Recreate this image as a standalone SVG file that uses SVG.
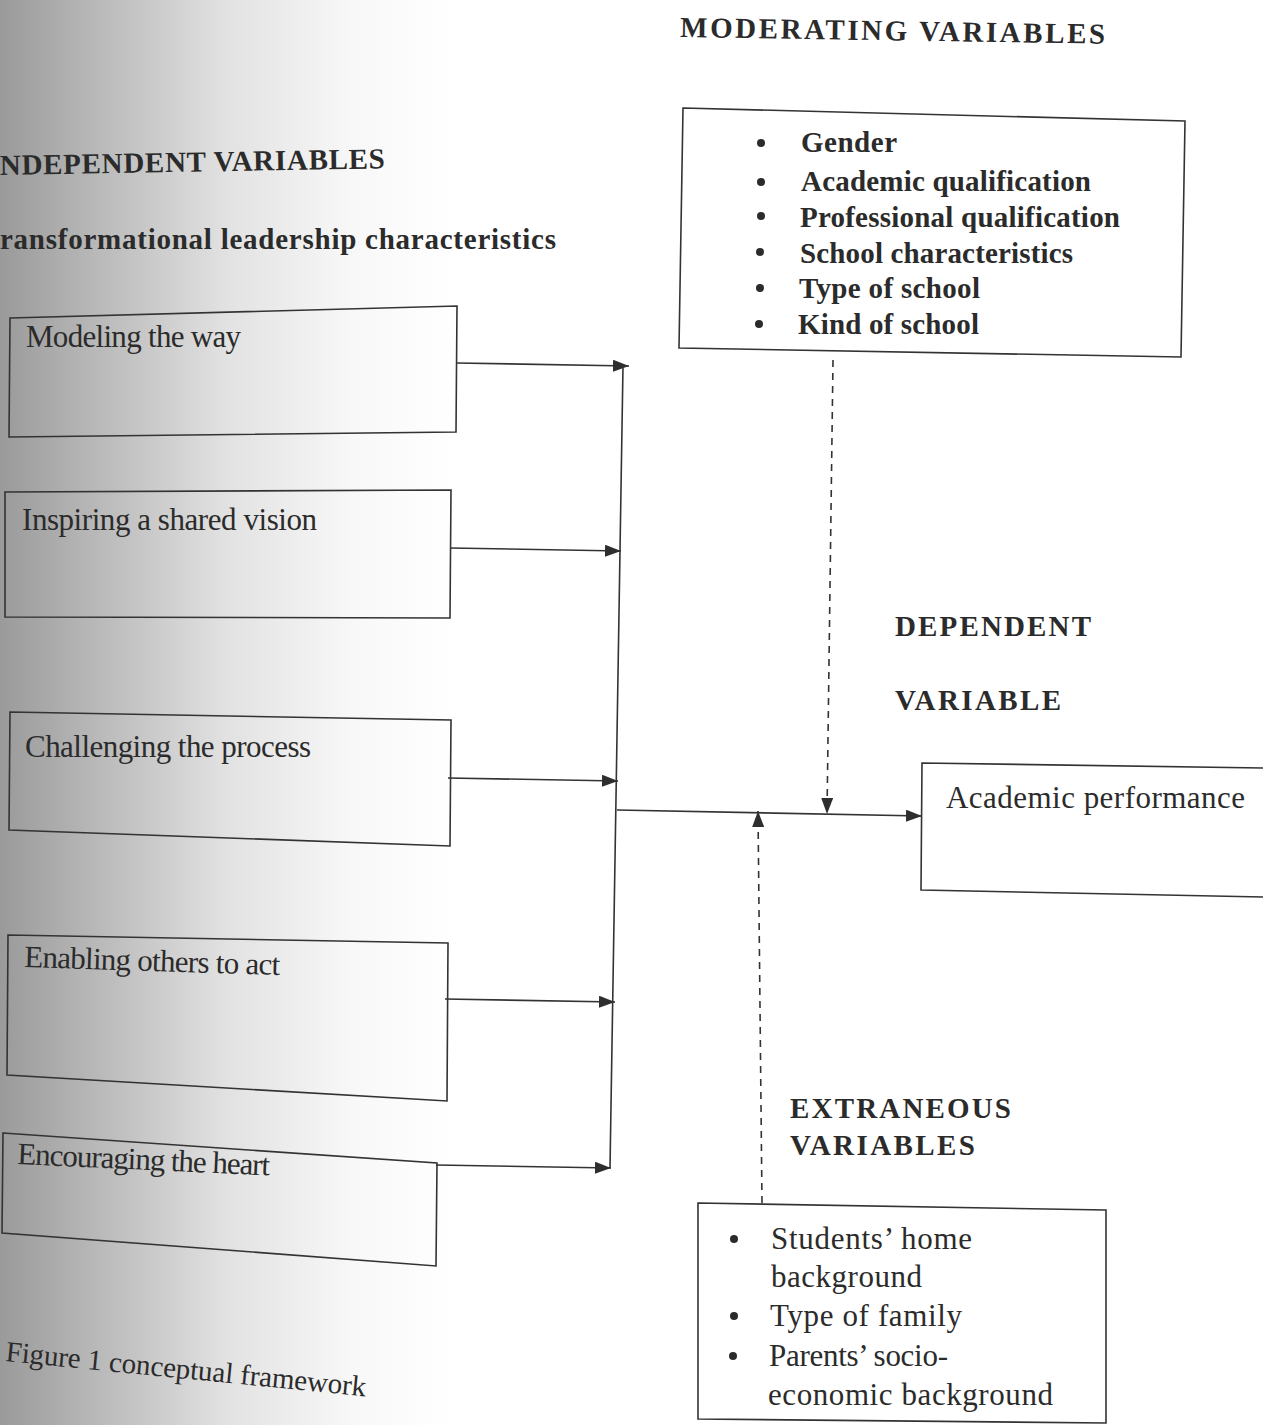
<svg xmlns="http://www.w3.org/2000/svg" width="1263" height="1425" viewBox="0 0 1263 1425">
<defs>
<linearGradient id="shade" x1="0" y1="0" x2="1263" y2="0" gradientUnits="userSpaceOnUse">
<stop offset="0" stop-color="#9a9a9a"/>
<stop offset="0.08" stop-color="#bababa"/>
<stop offset="0.18" stop-color="#e2e2e2"/>
<stop offset="0.28" stop-color="#f8f8f8"/>
<stop offset="0.36" stop-color="#ffffff"/>
<stop offset="1" stop-color="#ffffff"/>
</linearGradient>
<marker id="arr" viewBox="0 0 16 12" refX="16" refY="6" markerWidth="16" markerHeight="12" markerUnits="userSpaceOnUse" orient="auto">
<path d="M0,0 L16,6 L0,12 Z" fill="#2e2e2e"/>
</marker>
</defs>
<style>
.t{font-family:"Liberation Serif","Times New Roman",serif;fill:#2b2b2b;}
.b{font-weight:bold;font-size:29px;}
.r{font-size:31px;}
.box{fill:none;stroke:#333;stroke-width:1.6;}
.ln{fill:none;stroke:#333;stroke-width:1.6;}
.dash{fill:none;stroke:#333;stroke-width:1.6;stroke-dasharray:7,6;}
.dot{fill:#2b2b2b;}
</style>
<rect x="0" y="0" width="1263" height="1425" fill="url(#shade)"/>

<g id="headings">
<text class="t b" x="680" y="37" textLength="425" transform="rotate(0.9 680 37)">MODERATING VARIABLES</text>
<text class="t b" x="0" y="175" textLength="385" transform="rotate(-1 0 175)">NDEPENDENT VARIABLES</text>
<text class="t b" x="0" y="249" textLength="556">ransformational leadership characteristics</text>
<text class="t b" x="895" y="636" textLength="196">DEPENDENT</text>
<text class="t b" x="895" y="710" textLength="166">VARIABLE</text>
<text class="t b" x="790" y="1118" textLength="221">EXTRANEOUS</text>
<text class="t b" x="790" y="1155" textLength="185">VARIABLES</text>
<text class="t" font-size="29" x="0" y="0" textLength="362" transform="translate(5,1361) rotate(5.6)">Figure 1 conceptual framework</text>
</g>

<g id="moderating">
<polygon class="box" points="683,108 1185,121 1181,357 679,348"/>
<circle class="dot" cx="761" cy="143" r="4"/>
<circle class="dot" cx="761" cy="182" r="4"/>
<circle class="dot" cx="761" cy="216" r="4"/>
<circle class="dot" cx="760" cy="252" r="4"/>
<circle class="dot" cx="760" cy="288" r="4"/>
<circle class="dot" cx="759" cy="324" r="4"/>
<text class="t b" x="801" y="152" textLength="96">Gender</text>
<text class="t b" x="801" y="191" textLength="290">Academic qualification</text>
<text class="t b" x="800" y="227" textLength="320">Professional qualification</text>
<text class="t b" x="800" y="263" textLength="273">School characteristics</text>
<text class="t b" x="799" y="298" textLength="181">Type of school</text>
<text class="t b" x="798" y="334" textLength="181">Kind of school</text>
</g>

<g id="modeling">
<polygon class="box" points="10,318 457,306 456,432 9,437"/>
<text class="t r" x="26" y="347" textLength="215">Modeling the way</text>
</g>
<g id="inspiring">
<polygon class="box" points="5,492 451,490 450,618 5,617"/>
<text class="t r" x="22" y="530" textLength="295">Inspiring a shared vision</text>
</g>
<g id="challenging">
<polygon class="box" points="10,712 451,720 450,846 9,830"/>
<text class="t r" x="25" y="757" textLength="286">Challenging the process</text>
</g>
<g id="enabling">
<polygon class="box" points="8,935 448,943 447,1101 7,1075"/>
<text class="t r" x="24" y="967" textLength="256" transform="rotate(1.8 24 967)">Enabling others to act</text>
</g>
<g id="encouraging">
<polygon class="box" points="3,1133 437,1163 436,1266 2,1233"/>
<text class="t r" x="17" y="1164" textLength="253" transform="rotate(2.6 17 1164)">Encouraging the heart</text>
</g>

<g id="academic">
<path class="box" d="M1263,768 L922,763 L921,890 L1263,897"/>
<text class="t r" x="946" y="808" textLength="299">Academic performance</text>
</g>

<g id="extraneous">
<polygon class="box" points="698,1203 1106,1210 1106,1423 698,1419"/>
<circle class="dot" cx="734" cy="1239" r="4"/>
<circle class="dot" cx="734" cy="1316" r="4"/>
<circle class="dot" cx="733" cy="1356" r="4"/>
<text class="t r" x="771" y="1249" textLength="201">Students’ home</text>
<text class="t r" x="771" y="1287" textLength="151">background</text>
<text class="t r" x="770" y="1326" textLength="192">Type of family</text>
<text class="t r" x="769" y="1366" textLength="179">Parents’ socio-</text>
<text class="t r" x="768" y="1405" textLength="285">economic background</text>
</g>

<g id="connectors">
<line class="ln" x1="457" y1="363" x2="629" y2="366" marker-end="url(#arr)"/>
<line class="ln" x1="450" y1="548" x2="621" y2="551" marker-end="url(#arr)"/>
<line class="ln" x1="448" y1="778" x2="618" y2="781" marker-end="url(#arr)"/>
<line class="ln" x1="445" y1="999" x2="615" y2="1002" marker-end="url(#arr)"/>
<line class="ln" x1="436" y1="1165" x2="611" y2="1168" marker-end="url(#arr)"/>
<line class="ln" x1="623" y1="366" x2="610" y2="1168"/>
<line class="ln" x1="617" y1="810" x2="922" y2="816" marker-end="url(#arr)"/>
<line class="dash" x1="833" y1="360" x2="827" y2="814" marker-end="url(#arr)"/>
<line class="dash" x1="762" y1="1203" x2="758" y2="811" marker-end="url(#arr)"/>
</g>
</svg>
